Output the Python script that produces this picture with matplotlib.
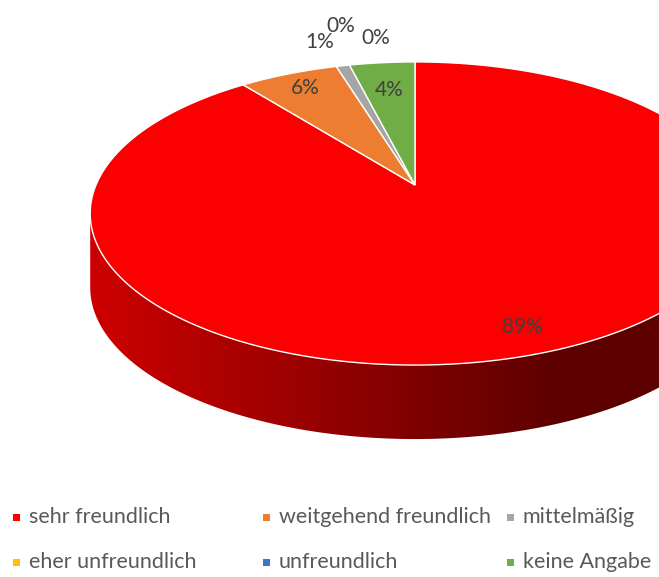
import numpy as np
import matplotlib.pyplot as plt
from matplotlib.patches import Polygon, Rectangle

categories = ['sehr freundlich', 'weitgehend freundlich', 'mittelmäßig',
              'eher unfreundlich', 'unfreundlich', 'keine Angabe']
values = [89.4, 5.9, 0.8, 0.0, 0.0, 3.9]
colors = ['#fa0000', '#ed7d31', '#a5a5a5', '#ffc000', '#4472c4', '#70ad47']

# label placement (radius as share of pie radius, angle nudge in degrees)
label_r = [0.87, 0.85, 1.25, 1.4, 1.25, 0.75]
label_nudge = [0, 0, -1.5, 2, 7, 0]

# 3d pie geometry, pixel space
W, H = 659, 577
cx, cy = 415, 185
rx, ry = 319, 146.2
persp = -0.188
depth = 74
txt = '#404040'


def project(theta, r=1.0):
    # theta: degrees clockwise from 12 o'clock
    t = np.radians(theta)
    u = r * np.sin(t)
    v = -r * np.cos(t)
    w = 1 + persp * v
    return cx + rx * u / w, cy + ry * v / w


fig = plt.figure(figsize=(W / 100, H / 100), dpi=100)
ax = fig.add_axes([0, 0, 1, 1])
ax.set_xlim(0, W)
ax.set_ylim(H, 0)
ax.axis('off')

total = sum(values)
bounds = np.concatenate([[0], np.cumsum(values) / total * 360])

# silhouette of the side wall
th = np.linspace(0, 360, 3601)
xs, _ = project(th)
th_right = th[np.argmax(xs)]
th_left = th[np.argmin(xs)]

# side wall, horizontal shading
gx = np.arange(W)
shade = np.clip(0.82 + (gx - 90) / (560 - 90) * (0.37 - 0.82), 0.37, 0.82)
for i, col in enumerate(colors):
    a0 = max(bounds[i], th_right)
    a1 = min(bounds[i + 1], th_left)
    if a1 <= a0:
        continue
    arc = np.linspace(a0, a1, 200)
    px, py = project(arc)
    pts = np.column_stack([np.r_[px, px[::-1]], np.r_[py, py[::-1] + depth]])
    poly = Polygon(pts, closed=True, facecolor='none', edgecolor='none')
    ax.add_patch(poly)
    base = np.array(plt.matplotlib.colors.to_rgb(col))
    img = np.tile((shade[:, None] * base)[None, :, :], (2, 1, 1))
    im = ax.imshow(img, extent=(0, W, H, 0), aspect='auto', zorder=1)
    im.set_clip_path(poly)

# top face
for i, col in enumerate(colors):
    if values[i] <= 0:
        continue
    arc = np.linspace(bounds[i], bounds[i + 1], 300)
    px, py = project(arc)
    pts = np.column_stack([np.r_[cx, px], np.r_[cy, py]])
    ax.add_patch(Polygon(pts, closed=True, facecolor=col, edgecolor='white',
                         linewidth=1.0, zorder=2))

# data labels
for i, v in enumerate(values):
    mid = (bounds[i] + bounds[i + 1]) / 2 + label_nudge[i]
    lx, ly = project(mid, label_r[i])
    ax.text(lx, ly, f'{v:.0f}%', ha='center', va='center', fontsize=15,
            color=txt, family='Lato', zorder=3)

# legend
col_x = [16, 266, 510]
row_y = [517, 562]
for i, name in enumerate(categories):
    x = col_x[i % 3]
    y = row_y[i // 3]
    ax.add_patch(Rectangle((x - 3.5, y - 3.5), 7, 7, facecolor=colors[i],
                           edgecolor='none', zorder=3))
    ax.text(x + 13, y, name, ha='left', va='center', fontsize=15.5,
            color='#595959', family='Lato', zorder=3)

fig.savefig('out.png', dpi=100)
